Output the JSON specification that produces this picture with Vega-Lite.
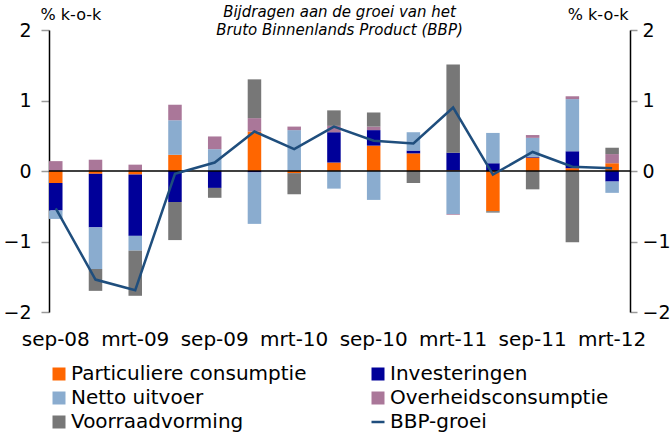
{
  "$schema": "https://vega.github.io/schema/vega-lite/v6.json",
  "autosize": {"type": "none"},
  "width": 581,
  "height": 282,
  "padding": {"left": 49, "top": 30, "right": 41, "bottom": 122},
  "background": "white",
  "config": {
    "view": {"stroke": null},
    "font": "DejaVu Sans",
    "axis": {"labelFont": "DejaVu Sans", "titleFont": "DejaVu Sans"}
  },
  "title": {
    "text": ["Bijdragen aan de groei van het", "Bruto Binnenlands Product (BBP)"],
    "font": "DejaVu Sans",
    "fontSize": 15,
    "fontStyle": "italic",
    "fontWeight": "normal",
    "color": "#000",
    "anchor": "middle",
    "lineHeight": 18,
    "offset": -32
  },
  "datasets": {
    "bars": [
      {"q": "sep-08", "s": "Particuliere consumptie", "k": 1, "v": -0.17},
      {"q": "sep-08", "s": "Investeringen", "k": 2, "v": -0.39},
      {"q": "sep-08", "s": "Netto uitvoer", "k": 3, "v": -0.12},
      {"q": "sep-08", "s": "Overheidsconsumptie", "k": 4, "v": 0.14},
      {"q": "sep-08", "s": "Voorraadvorming", "k": 5, "v": 0.0},
      {"q": "dec-08", "s": "Particuliere consumptie", "k": 1, "v": -0.04},
      {"q": "dec-08", "s": "Investeringen", "k": 2, "v": -0.76},
      {"q": "dec-08", "s": "Netto uitvoer", "k": 3, "v": -0.59},
      {"q": "dec-08", "s": "Overheidsconsumptie", "k": 4, "v": 0.16},
      {"q": "dec-08", "s": "Voorraadvorming", "k": 5, "v": -0.31},
      {"q": "mrt-09", "s": "Particuliere consumptie", "k": 1, "v": -0.05},
      {"q": "mrt-09", "s": "Investeringen", "k": 2, "v": -0.87},
      {"q": "mrt-09", "s": "Netto uitvoer", "k": 3, "v": -0.21},
      {"q": "mrt-09", "s": "Overheidsconsumptie", "k": 4, "v": 0.09},
      {"q": "mrt-09", "s": "Voorraadvorming", "k": 5, "v": -0.64},
      {"q": "jun-09", "s": "Particuliere consumptie", "k": 1, "v": 0.23},
      {"q": "jun-09", "s": "Investeringen", "k": 2, "v": -0.44},
      {"q": "jun-09", "s": "Netto uitvoer", "k": 3, "v": 0.49},
      {"q": "jun-09", "s": "Overheidsconsumptie", "k": 4, "v": 0.22},
      {"q": "jun-09", "s": "Voorraadvorming", "k": 5, "v": -0.54},
      {"q": "sep-09", "s": "Particuliere consumptie", "k": 1, "v": 0.0},
      {"q": "sep-09", "s": "Investeringen", "k": 2, "v": -0.24},
      {"q": "sep-09", "s": "Netto uitvoer", "k": 3, "v": 0.31},
      {"q": "sep-09", "s": "Overheidsconsumptie", "k": 4, "v": 0.18},
      {"q": "sep-09", "s": "Voorraadvorming", "k": 5, "v": -0.14},
      {"q": "dec-09", "s": "Particuliere consumptie", "k": 1, "v": 0.56},
      {"q": "dec-09", "s": "Investeringen", "k": 2, "v": -0.02},
      {"q": "dec-09", "s": "Netto uitvoer", "k": 3, "v": -0.73},
      {"q": "dec-09", "s": "Overheidsconsumptie", "k": 4, "v": 0.19},
      {"q": "dec-09", "s": "Voorraadvorming", "k": 5, "v": 0.55},
      {"q": "mrt-10", "s": "Particuliere consumptie", "k": 1, "v": -0.03},
      {"q": "mrt-10", "s": "Investeringen", "k": 2, "v": 0.0},
      {"q": "mrt-10", "s": "Netto uitvoer", "k": 3, "v": 0.58},
      {"q": "mrt-10", "s": "Overheidsconsumptie", "k": 4, "v": 0.05},
      {"q": "mrt-10", "s": "Voorraadvorming", "k": 5, "v": -0.30},
      {"q": "jun-10", "s": "Particuliere consumptie", "k": 1, "v": 0.12},
      {"q": "jun-10", "s": "Investeringen", "k": 2, "v": 0.43},
      {"q": "jun-10", "s": "Netto uitvoer", "k": 3, "v": -0.25},
      {"q": "jun-10", "s": "Overheidsconsumptie", "k": 4, "v": 0.09},
      {"q": "jun-10", "s": "Voorraadvorming", "k": 5, "v": 0.22},
      {"q": "sep-10", "s": "Particuliere consumptie", "k": 1, "v": 0.36},
      {"q": "sep-10", "s": "Investeringen", "k": 2, "v": 0.22},
      {"q": "sep-10", "s": "Netto uitvoer", "k": 3, "v": -0.41},
      {"q": "sep-10", "s": "Overheidsconsumptie", "k": 4, "v": 0.05},
      {"q": "sep-10", "s": "Voorraadvorming", "k": 5, "v": 0.20},
      {"q": "dec-10", "s": "Particuliere consumptie", "k": 1, "v": 0.25},
      {"q": "dec-10", "s": "Investeringen", "k": 2, "v": 0.04},
      {"q": "dec-10", "s": "Netto uitvoer", "k": 3, "v": 0.26},
      {"q": "dec-10", "s": "Overheidsconsumptie", "k": 4, "v": 0.0},
      {"q": "dec-10", "s": "Voorraadvorming", "k": 5, "v": -0.17},
      {"q": "mrt-11", "s": "Particuliere consumptie", "k": 1, "v": 0.01},
      {"q": "mrt-11", "s": "Investeringen", "k": 2, "v": 0.25},
      {"q": "mrt-11", "s": "Netto uitvoer", "k": 3, "v": -0.61},
      {"q": "mrt-11", "s": "Overheidsconsumptie", "k": 4, "v": -0.01},
      {"q": "mrt-11", "s": "Voorraadvorming", "k": 5, "v": 1.25},
      {"q": "jun-11", "s": "Particuliere consumptie", "k": 1, "v": -0.57},
      {"q": "jun-11", "s": "Investeringen", "k": 2, "v": 0.11},
      {"q": "jun-11", "s": "Netto uitvoer", "k": 3, "v": 0.43},
      {"q": "jun-11", "s": "Overheidsconsumptie", "k": 4, "v": 0.0},
      {"q": "jun-11", "s": "Voorraadvorming", "k": 5, "v": -0.02},
      {"q": "sep-11", "s": "Particuliere consumptie", "k": 1, "v": 0.19},
      {"q": "sep-11", "s": "Investeringen", "k": 2, "v": 0.01},
      {"q": "sep-11", "s": "Netto uitvoer", "k": 3, "v": 0.27},
      {"q": "sep-11", "s": "Overheidsconsumptie", "k": 4, "v": 0.04},
      {"q": "sep-11", "s": "Voorraadvorming", "k": 5, "v": -0.26},
      {"q": "dec-11", "s": "Particuliere consumptie", "k": 1, "v": 0.04},
      {"q": "dec-11", "s": "Investeringen", "k": 2, "v": 0.24},
      {"q": "dec-11", "s": "Netto uitvoer", "k": 3, "v": 0.74},
      {"q": "dec-11", "s": "Overheidsconsumptie", "k": 4, "v": 0.04},
      {"q": "dec-11", "s": "Voorraadvorming", "k": 5, "v": -1.01},
      {"q": "mrt-12", "s": "Particuliere consumptie", "k": 1, "v": 0.11},
      {"q": "mrt-12", "s": "Investeringen", "k": 2, "v": -0.15},
      {"q": "mrt-12", "s": "Netto uitvoer", "k": 3, "v": -0.16},
      {"q": "mrt-12", "s": "Overheidsconsumptie", "k": 4, "v": 0.13},
      {"q": "mrt-12", "s": "Voorraadvorming", "k": 5, "v": 0.09}
    ],
    "line": [
      {"q": "sep-08", "bbp": -0.53},
      {"q": "dec-08", "bbp": -1.54},
      {"q": "mrt-09", "bbp": -1.69},
      {"q": "jun-09", "bbp": -0.04},
      {"q": "sep-09", "bbp": 0.12},
      {"q": "dec-09", "bbp": 0.56},
      {"q": "mrt-10", "bbp": 0.31},
      {"q": "jun-10", "bbp": 0.63},
      {"q": "sep-10", "bbp": 0.43},
      {"q": "dec-10", "bbp": 0.39},
      {"q": "mrt-11", "bbp": 0.90},
      {"q": "jun-11", "bbp": -0.05},
      {"q": "sep-11", "bbp": 0.27},
      {"q": "dec-11", "bbp": 0.06},
      {"q": "mrt-12", "bbp": 0.04}
    ]
  },
  "resolve": {"scale": {"y": "independent"}},
  "layer": [
    {
      "data": {"name": "bars"},
      "mark": {"type": "bar"},
      "encoding": {
        "x": {
          "field": "q", "type": "nominal", "sort": null,
          "scale": {"type": "band", "paddingInner": 0.66, "paddingOuter": 0.14, "align": 0},
          "axis": {
            "title": null,
            "values": ["sep-08", "mrt-09", "sep-09", "mrt-10", "sep-10", "mrt-11", "sep-11", "mrt-12"],
            "labelAngle": 0, "labelFontSize": 20, "labelColor": "#000",
            "domain": false, "ticks": false, "tickSize": 0, "labelPadding": 17
          }
        },
        "y": {
          "field": "v", "type": "quantitative", "stack": "zero",
          "scale": {"domain": [-2, 2], "nice": false, "zero": false},
          "axis": {
            "values": [-2, -1, 0, 1, 2], "grid": false,
            "labelFontSize": 19, "labelColor": "#000", "labelPadding": 10,
            "tickSize": 8, "tickColor": "#999", "tickWidth": 1.5,
            "domainColor": "#000", "domainWidth": 1.5,
            "title": "% k-o-k", "titleAngle": 0, "titleAlign": "left", "titleBaseline": "middle",
            "titleX": -9, "titleY": -16, "titleFontSize": 16, "titleFontWeight": "normal", "titleColor": "#000"
          }
        },
        "order": {"field": "k", "type": "quantitative"},
        "color": {
          "field": "s", "type": "nominal",
          "scale": {
            "domain": ["Particuliere consumptie", "Netto uitvoer", "Voorraadvorming", "Investeringen", "Overheidsconsumptie", "BBP-groei"],
            "range": ["#FF6600", "#8AACCF", "#777777", "#000099", "#AA7799", "#1F4E7D"]
          },
          "legend": {
            "title": null, "orient": "none", "legendX": 0, "legendY": 334,
            "columns": 2, "columnPadding": 59, "rowPadding": 4,
            "labelFontSize": 20, "labelColor": "#000", "labelFont": "DejaVu Sans", "labelOffset": 2, "labelLimit": 0,
            "symbolSize": 169, "symbolType": "square",
            "encode": {
              "symbols": {
                "update": {
                  "shape": {"signal": "datum.label === 'BBP-groei' ? 'stroke' : 'square'"},
                  "stroke": {"signal": "datum.label === 'BBP-groei' ? '#1F4E7D' : 'transparent'"},
                  "strokeWidth": {"signal": "datum.label === 'BBP-groei' ? 2.5 : 0"},
                  "fill": {"signal": "datum.label === 'BBP-groei' ? 'transparent' : scale('color', datum.value)"},
                  "opacity": {"value": 1}
                }
              }
            }
          }
        }
      }
    },
    {
      "data": {"values": [{"z": 0}]},
      "mark": {"type": "rule", "color": "#000", "strokeWidth": 1.5},
      "encoding": {
        "y": {"field": "z", "type": "quantitative", "scale": {"domain": [-2, 2], "nice": false, "zero": false}, "axis": null}
      }
    },
    {
      "data": {"name": "line"},
      "mark": {"type": "line", "strokeWidth": 2.5},
      "encoding": {
        "x": {"field": "q", "type": "nominal", "sort": null},
        "y": {
          "field": "bbp", "type": "quantitative",
          "scale": {"domain": [-2, 2], "nice": false, "zero": false},
          "axis": {
            "orient": "right", "values": [-2, -1, 0, 1, 2], "grid": false,
            "labelFontSize": 19, "labelColor": "#000", "labelPadding": 5,
            "tickSize": 7, "tickColor": "#999", "tickWidth": 1.5,
            "domainColor": "#000", "domainWidth": 1.5,
            "title": "% k-o-k", "titleAngle": 0, "titleAlign": "right", "titleBaseline": "middle",
            "titleX": -2, "titleY": -16, "titleFontSize": 16, "titleFontWeight": "normal", "titleColor": "#000"
          }
        },
        "color": {"datum": "BBP-groei"}
      }
    }
  ]
}
